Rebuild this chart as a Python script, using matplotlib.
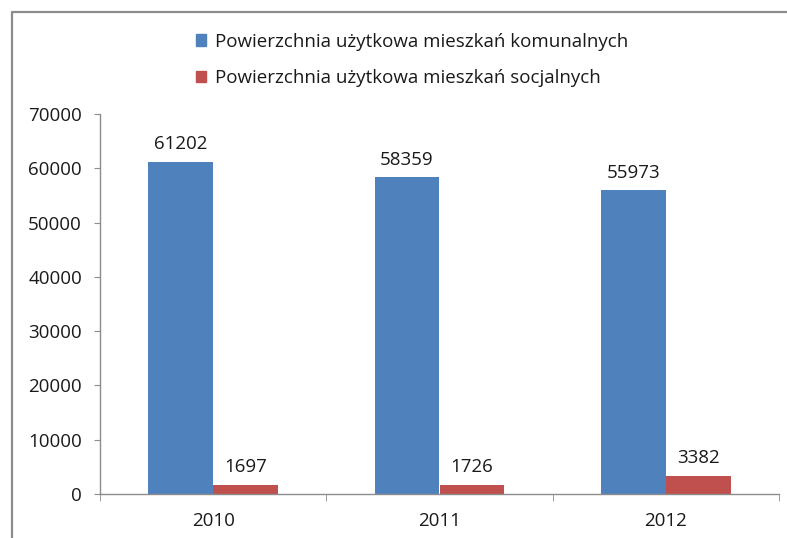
import matplotlib
matplotlib.use("Agg")
import matplotlib.pyplot as plt
import numpy as np
from matplotlib.lines import Line2D
from matplotlib.patches import Rectangle

years = ["2010", "2011", "2012"]
komunalne = [61202, 58359, 55973]
socjalne = [1697, 1726, 3382]
series_names = ["Powierzchnia użytkowa mieszkań komunalnych",
                "Powierzchnia użytkowa mieszkań socjalnych"]
yticks = [0, 10000, 20000, 30000, 40000, 50000, 60000, 70000]

plt.rcParams['font.family'] = ['Open Sans', 'DejaVu Sans']

W, H = 787, 538
fs = 13.5
fig = plt.figure(figsize=(W / 100, H / 100), dpi=100)
ax = fig.add_axes([100 / W, (H - 494) / H, 679 / W, 380 / H])

x = np.arange(len(years))
w = 0.287
blue = "#4F81BD"
red = "#C0504D"
txt = "#1a1a1a"
b1 = ax.bar(x - w / 2, komunalne, width=w, color=blue, label=series_names[0])
b2 = ax.bar(x + w / 2, socjalne, width=w, color=red, label=series_names[1])

for rects, vals in ((b1, komunalne), (b2, socjalne)):
    for r, v in zip(rects, vals):
        ax.annotate(str(v), (r.get_x() + r.get_width() / 2, v),
                    xytext=(0, 6), textcoords="offset points",
                    ha="center", va="bottom", fontsize=fs, color=txt)

ax.set_xlim(-0.5, 2.5)
ax.set_ylim(0, 70000)
ax.set_yticks(yticks)
ax.set_yticklabels([str(t) for t in yticks])
ax.set_xticks(x)
ax.set_xticklabels(years)
ax.set_xticks([-0.5, 0.5, 1.5, 2.5], minor=True)

gray = "#8c8c8c"
for s in ("top", "right"):
    ax.spines[s].set_visible(False)
for s in ("left", "bottom"):
    ax.spines[s].set_color(gray)
    ax.spines[s].set_linewidth(1.0)

ax.tick_params(axis="y", direction="out", length=4, color=gray, labelsize=fs,
               labelcolor=txt, pad=9)
ax.tick_params(axis="x", which="major", length=0, labelsize=fs,
               labelcolor=txt, pad=13)
ax.tick_params(axis="x", which="minor", direction="out", length=5, color=gray)

# legend
leg = fig.legend(handles=[Rectangle((0, 0), 1, 1, color=blue),
                          Rectangle((0, 0), 1, 1, color=red)],
                 labels=series_names, loc="center",
                 bbox_to_anchor=(412 / W, 1 - 60 / H),
                 frameon=False, fontsize=fs, handlelength=0.55, handleheight=0.55,
                 handletextpad=0.5, labelspacing=1.0, alignment="left",
                 labelcolor=txt)

# outer frame (left and top)
fx = 12 / W
fy = 1 - 12 / H
fig.add_artist(Line2D([fx, fx, 1.0], [0.0, fy, fy], transform=fig.transFigure,
                      color=gray, linewidth=1.6))

fig.savefig("out.png", dpi=100)
